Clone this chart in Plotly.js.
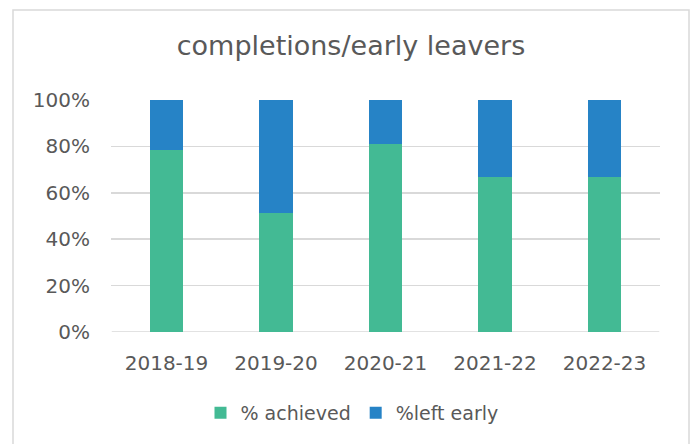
<!DOCTYPE html>
<html>
<head>
<meta charset="utf-8">
<script src="https://cdn.plot.ly/plotly-3.0.1.min.js"></script>
<style>html,body{margin:0;padding:0;background:#fff;}#chart{width:696px;height:444px;}</style>
</head>
<body>
<div id="chart"></div>
<script>
const categories = ["2018-19", "2019-20", "2020-21", "2021-22", "2022-23"];
const achieved = [78.4, 51.4, 81.0, 66.7, 66.7];
const leftEarly = [21.6, 48.6, 19.0, 33.3, 33.3];
const seriesNames = ["% achieved", "%left early"];
const yTicks = [0, 20, 40, 60, 80, 100];
const yTickLabels = ["0%", "20%", "40%", "60%", "80%", "100%"];

const font = "DejaVu Sans, sans-serif";
const textColor = "#595959";

const traces = [
  {type: "bar", x: categories, y: achieved, name: seriesNames[0],
   marker: {color: "#43BA94"}, hoverinfo: "skip"},
  {type: "bar", x: categories, y: leftEarly, name: seriesNames[1],
   marker: {color: "#2683C6"}, hoverinfo: "skip"}
];

const layout = {
  width: 696, height: 444,
  barmode: "stack", bargap: 0.69,
  paper_bgcolor: "#fff", plot_bgcolor: "#fff",
  margin: {l: 111, r: 36, t: 100, b: 112},
  font: {family: font, color: textColor, size: 20},
  showlegend: true,
  title: {text: "completions/early leavers", x: 351/696, xanchor: "center",
          y: 1 - 46/444, yanchor: "middle", yref: "container",
          font: {family: font, size: 27, color: textColor}},
  xaxis: {type: "category", showgrid: false, zeroline: false, showline: false,
          ticks: "", ticklabelstandoff: 17,
          tickfont: {size: 20, color: textColor}, fixedrange: true},
  yaxis: {range: [0, 100], tickvals: yTicks, ticktext: yTickLabels,
          showgrid: true, gridcolor: "#D9D9D9", gridwidth: 1.5, zeroline: false,
          showline: false, ticks: "", ticklabelstandoff: 20,
          tickfont: {size: 20, color: textColor}, fixedrange: true},
  legend: {orientation: "h", x: 352/696, xanchor: "center", xref: "container",
           y: 1 - 413/444, yanchor: "middle", yref: "container",
           font: {size: 19, color: textColor}, itemwidth: 30, traceorder: "normal"},
  shapes: [
    {type: "line", xref: "x", yref: "y", x0: -0.5, x1: 4.5, y0: 0, y1: 0,
     line: {color: "#D9D9D9", width: 1.5}, layer: "below"},
    {type: "rect", xref: "paper", yref: "paper",
     x0: (13 - 111) / 549, x1: (689 - 111) / 549,
     y0: (332 - 460) / 232, y1: (332 - 10) / 232,
     line: {color: "#D9D9D9", width: 1.5}, fillcolor: "rgba(0,0,0,0)", layer: "below"}
  ]
};

Plotly.newPlot("chart", traces, layout, {displayModeBar: false, staticPlot: true});
</script>
</body>
</html>
